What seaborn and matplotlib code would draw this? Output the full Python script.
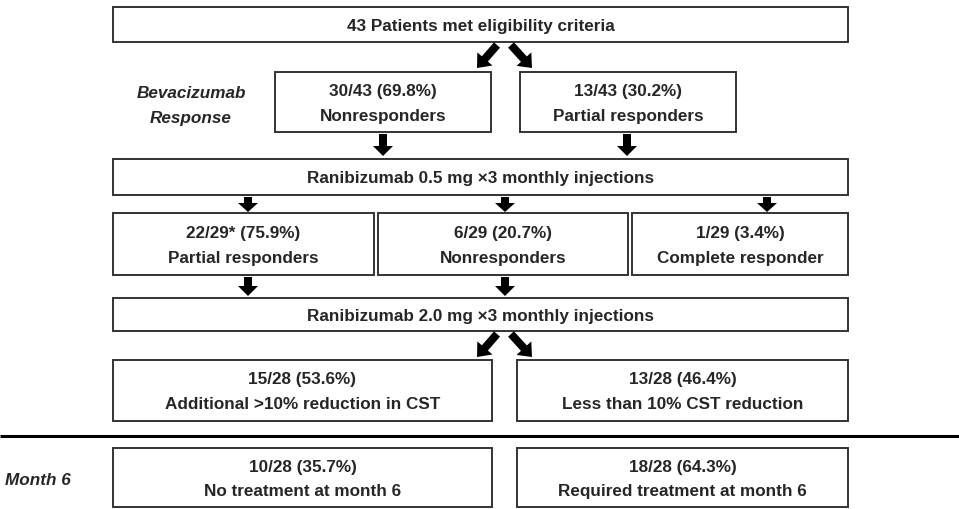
import matplotlib
matplotlib.use("Agg")
import matplotlib.pyplot as plt
import seaborn as sns
from matplotlib.patches import Rectangle

# flowchart text
top_label = "43 Patients met eligibility criteria"
bev_counts = ["30/43 (69.8%)", "13/43 (30.2%)"]
bev_labels = ["Nonresponders", "Partial responders"]
step1_label = "Ranibizumab 0.5 mg \u00d73 monthly injections"
r05_counts = ["22/29* (75.9%)", "6/29 (20.7%)", "1/29 (3.4%)"]
r05_labels = ["Partial responders", "Nonresponders", "Complete responder"]
step2_label = "Ranibizumab 2.0 mg \u00d73 monthly injections"
r20_counts = ["15/28 (53.6%)", "13/28 (46.4%)"]
r20_labels = ["Additional >10% reduction in CST", "Less than 10% CST reduction"]
m6_counts = ["10/28 (35.7%)", "18/28 (64.3%)"]
m6_labels = ["No treatment at month 6", "Required treatment at month 6"]
side_labels = ["Bevacizumab", "Response", "Month 6"]

# layout (pixel units, y down): left, top, right, bottom
top_box = (113, 8, 848, 43)
bev_boxes = [(275, 73, 491, 133), (520, 73, 736, 133)]
step1_box = (113, 160, 848, 196)
r05_boxes = [(113, 214, 374, 276), (378, 214, 628, 276), (632, 214, 848, 276)]
step2_box = (113, 299, 848, 332)
r20_boxes = [(113, 361, 492, 422), (517, 361, 848, 422)]
m6_boxes = [(113, 449, 492, 508), (517, 449, 848, 508)]

sns.set_style("white")
plt.rcParams['font.family'] = ['Liberation Sans', 'DejaVu Sans']

fig = plt.figure(figsize=(9.59, 5.10), dpi=100)
ax = fig.add_axes([0, 0, 1, 1])
ax.set_xlim(0, 959)
ax.set_ylim(510, 0)
ax.axis("off")

FS = 12.3
EDGE = "#333333"


def box(b, lines):
    x0, y0, x1, y1 = b
    ax.add_patch(Rectangle((x0, y0), x1 - x0, y1 - y0, fill=False,
                           edgecolor=EDGE, linewidth=1.4))
    cx = (x0 + x1) / 2
    h = y1 - y0
    if len(lines) == 1:
        ax.text(cx, y0 + h / 2 + 1, lines[0], ha="center", va="center",
                fontsize=FS, fontweight="bold")
    else:
        ax.text(cx, y0 + h * 0.31, lines[0], ha="center", va="center",
                fontsize=FS, fontweight="bold")
        ax.text(cx, y0 + h * 0.72, lines[1], ha="center", va="center",
                fontsize=FS, fontweight="bold")


def arrow(x0, y0, x1, y1, hl=10):
    ax.arrow(x0, y0, x1 - x0, y1 - y0, width=8, head_width=20,
             head_length=hl, length_includes_head=True, color="black",
             linewidth=0)


box(top_box, [top_label])
for b, c, l in zip(bev_boxes, bev_counts, bev_labels):
    box(b, [c, l])
box(step1_box, [step1_label])
for b, c, l in zip(r05_boxes, r05_counts, r05_labels):
    box(b, [c, l])
box(step2_box, [step2_label])
for b, c, l in zip(r20_boxes, r20_counts, r20_labels):
    box(b, [c, l])
for b, c, l in zip(m6_boxes, m6_counts, m6_labels):
    box(b, [c, l])

# arrows
arrow(497, 46, 477, 69, hl=12)
arrow(511, 46, 532, 69, hl=12)
for x in (383, 627):
    arrow(x, 135, x, 157)
for x in (248, 505, 767):
    arrow(x, 198, x, 213, hl=9)
for x in (248, 505):
    arrow(x, 278, x, 297)
arrow(497, 335, 477, 358, hl=12)
arrow(511, 335, 532, 358, hl=12)

# divider
ax.plot([0, 959], [437, 437], color="black", linewidth=2.2,
        solid_capstyle="butt")

ax.text(191, 93, side_labels[0], ha="center", va="center", fontsize=FS,
        fontweight="bold", style="italic")
ax.text(191, 119, side_labels[1], ha="center", va="center", fontsize=FS,
        fontweight="bold", style="italic")
ax.text(38, 481, side_labels[2], ha="center", va="center", fontsize=FS,
        fontweight="bold", style="italic")

fig.savefig("out.png", dpi=100)
